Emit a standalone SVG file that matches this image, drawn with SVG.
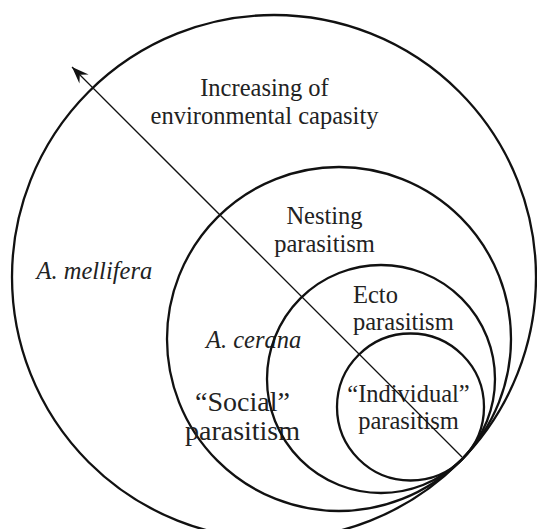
<svg xmlns="http://www.w3.org/2000/svg" width="537" height="529" viewBox="0 0 537 529">
<style>
.c{fill:none;stroke:#111;stroke-width:2.3}
.t{font-family:"Liberation Serif","Times New Roman",serif;font-size:24.5px;fill:#222}
.i{font-style:italic}
.m{text-anchor:middle}
</style>
<defs>
<marker id="ah" viewBox="-18 -8 20 16" refX="0" refY="0" markerWidth="20" markerHeight="16" markerUnits="userSpaceOnUse" orient="auto">
<path d="M0,0 L-17,-6.5 L-11,0 L-17,6.5 Z" fill="#111"/>
</marker>
</defs>
<rect width="537" height="529" fill="#fff"/>
<g id="mellifera">
<circle class="c" cx="274" cy="277" r="262"/>
<text class="t" x="264.5" y="96" text-anchor="middle">Increasing of</text>
<text class="t" x="264.5" y="123.5" text-anchor="middle">environmental capasity</text>
<text class="t i" x="36.5" y="279">A. mellifera</text>
</g>
<g id="cerana">
<circle class="c" cx="339" cy="339" r="172"/>
<text class="t m" x="324.5" y="224">Nesting</text>
<text class="t m" x="324.5" y="252">parasitism</text>
<text class="t i" x="206" y="348">A. cerana</text>
<text class="t m" x="242.5" y="411" style="font-size:28px">“Social”</text>
<text class="t m" x="242.5" y="440" style="font-size:28px">parasitism</text>
</g>
<g id="ecto">
<circle class="c" cx="381" cy="379" r="114"/>
<text class="t" x="353" y="303">Ecto</text>
<text class="t" x="353" y="330">parasitism</text>
</g>
<g id="individual">
<circle class="c" cx="410.5" cy="407" r="73.5"/>
<text class="t m" x="408.5" y="402">“Individual”</text>
<text class="t m" x="408.5" y="429">parasitism</text>
</g>
<g id="connectors">
<line x1="462" y1="457" x2="72" y2="67" stroke="#111" stroke-width="1.3" marker-end="url(#ah)"/>
</g>
</svg>
